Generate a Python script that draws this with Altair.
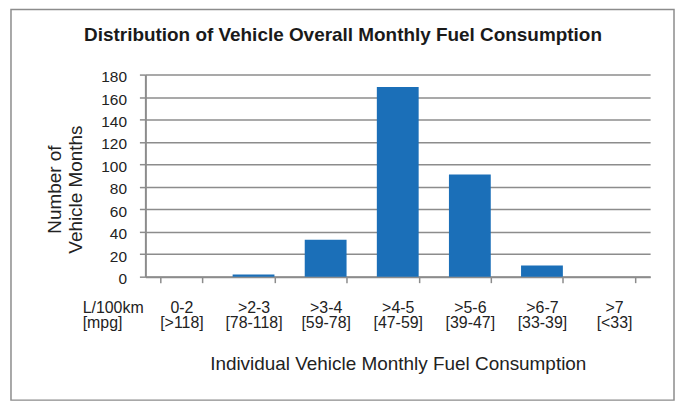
import altair as alt
import pandas as pd

# ---- data ----
categories = ["0-2", ">2-3", ">3-4", ">4-5", ">5-6", ">6-7", ">7"]
mpg_ranges = ["[>118]", "[78-118]", "[59-78]", "[47-59]", "[39-47]", "[33-39]", "[<33]"]
vehicle_months = [0, 2, 33, 169, 91, 10, 0]
y_ticks = [0, 20, 40, 60, 80, 100, 120, 140, 160, 180]

title_text = "Distribution of Vehicle Overall Monthly Fuel Consumption"
x_title = "Individual Vehicle Monthly Fuel Consumption"
y_title = ["Number of", "Vehicle Months"]
unit_label = ["L/100km", "[mpg]"]

df = pd.DataFrame({"cat": categories, "mpg": mpg_ranges, "count": vehicle_months})
df["label"] = df["cat"] + "|" + df["mpg"]
order = list(df["label"])

W, H = 507, 203
FONT = "Liberation Sans"
GRID = "#8c8c8c"
TXT = "#222222"

bars = alt.Chart(df).mark_bar(color="#1b6fb8").encode(
    x=alt.X(
        "label:N",
        sort=order,
        scale=alt.Scale(paddingInner=0.42, paddingOuter=0.21),
        axis=alt.Axis(
            title=x_title,
            labelExpr="split(datum.label, '|')",
            labelAngle=0,
            tickBand="extent",
            tickSize=6,
            tickColor=GRID,
            tickWidth=1.5,
            domainColor=GRID,
            domainWidth=2,
            grid=False,
            labelPadding=17,
            labelFont=FONT,
            labelFontSize=16,
            labelLineHeight=15.5,
            labelColor=TXT,
            titleFont=FONT,
            titleFontSize=19,
            titleFontWeight="normal",
            titleColor=TXT,
            titleX=W / 2,
            titleY=93,
            titleAlign="center",
            titleBaseline="alphabetic",
        ),
    ),
    y=alt.Y(
        "count:Q",
        scale=alt.Scale(domain=[0, 180], nice=False),
        axis=alt.Axis(
            values=y_ticks,
            title=y_title,
            tickSize=6,
            tickColor=GRID,
            tickWidth=1.5,
            domainColor=GRID,
            domainWidth=2,
            grid=True,
            gridColor=GRID,
            gridWidth=1.5,
            labelPadding=13,
            labelOffset=2,
            labelFont=FONT,
            labelFontSize=15.5,
            labelColor=TXT,
            titleFont=FONT,
            titleFontSize=19,
            titleFontWeight="normal",
            titleColor=TXT,
            titleLineHeight=21,
            titleAngle=270,
            titleX=-81,
            titleY=115,
            titleAlign="center",
            titleBaseline="bottom",
        ),
    ),
)

one = pd.DataFrame({"k": [0]})

border = alt.Chart(one).mark_rect(filled=False, stroke=GRID, strokeWidth=1.5).encode(
    x=alt.value(-135), x2=alt.value(531), y=alt.value(-65.5), y2=alt.value(327)
)

title = alt.Chart(one).mark_text(
    font=FONT, fontSize=19, fontWeight="bold", color="#1a1a1a",
    align="center", baseline="alphabetic",
).encode(x=alt.value(198.5), y=alt.value(-34), text=alt.value(title_text))

unit = alt.Chart(one).mark_text(
    font=FONT, fontSize=16, color=TXT, align="left", baseline="top", lineHeight=15.5,
).encode(x=alt.value(-63), y=alt.value(226), text=alt.value(unit_label))

chart = alt.layer(border, bars, title, unit).properties(
    width=W,
    height=H,
    autosize="none",
    padding={"left": 138, "top": 66, "right": 26, "bottom": 126},
    background="white",
).configure_view(stroke=None)

chart.save("out.html", embed_options={"renderer": "svg", "actions": False})
